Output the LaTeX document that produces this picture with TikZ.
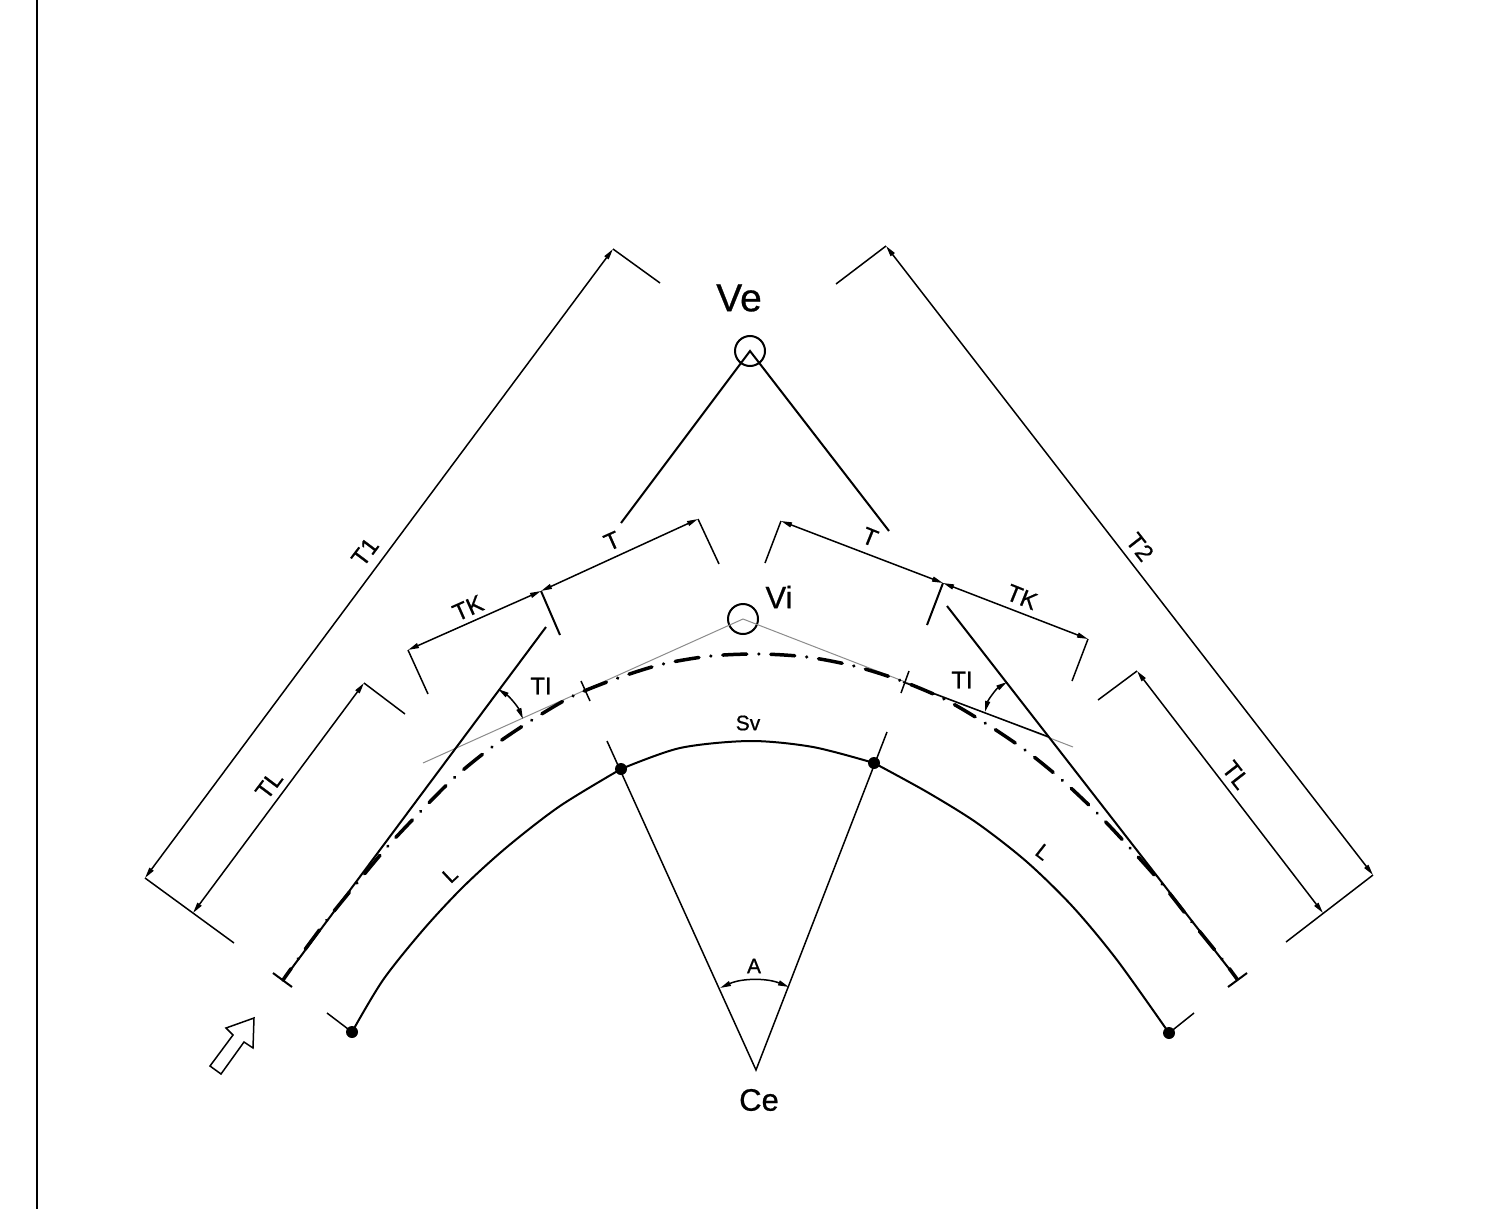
\documentclass[tikz,border=0pt]{standalone}
\usepackage{fontspec}
\setmainfont{Liberation Sans}
\newfontfamily\cadfont[FakeBold=.7]{Liberation Sans}
\usetikzlibrary
  {
    arrows.meta,              % small dimension tips
    calc,
  }

\tikzset
  {
    line/.style={line width=1.5pt},
    thickline/.style={line width=2pt},
    graytan/.style={line width=1pt, black!45},
    dimen/.style={line width=1.5pt, {Stealth[inset=0pt,length=11pt,width=5pt]}-{Stealth[inset=0pt,length=11pt,width=5pt]}},
    axisline/.style={line width=3.5pt, line cap=round, dash pattern=on 24pt off 12pt on .01pt off 12pt, dash phase=10pt},
    bigtext/.style={font=\cadfont\fontsize{39}{39}\selectfont, inner sep=0},
    midtext/.style={font=\cadfont\fontsize{31}{31}\selectfont, inner sep=0},
    dimtext/.style={font=\cadfont\fontsize{24}{24}\selectfont, inner sep=0},
    smalltext/.style={font=\cadfont\fontsize{21}{21}\selectfont, inner sep=0},
    stake/.style={circle, fill=black, inner sep=0, minimum size=12pt},
  }

\begin{document}
\begin{tikzpicture}[x=1pt,y=-1pt]
    \useasboundingbox (0,0) rectangle (1485,1209);
    \fill[white] (0,0) rectangle (1485,1209);

    % frame edge
    \draw[line width=2pt] (37,0) -- (37,1209);

    % vertices
    \node (Ve) [draw, circle, thickline, minimum size=30pt, inner sep=0] at (750,351) {};
    \node (Vi) [draw, circle, thickline, minimum size=30pt, inner sep=0] at (743,619) {};
    \node (VeLabel) [bigtext] at (739,298) {Ve};
    \node (ViLabel) [midtext] at (779,597) {Vi};

    \coordinate (VeC) at (750,351);
    \coordinate (ViC) at (743,619);
    \coordinate (Ce) at (756,1070);
    \node (CeLabel) [midtext] at (759,1100) {Ce};

    % outer tangents
    \coordinate (VeL) at (621,523);
    \coordinate (VeR) at (889,531);
    \draw[thickline] (VeL) -- (VeC) -- (VeR);

    % inner tangents
    \coordinate (TiL) at (423,763);
    \coordinate (TiR) at (1073,747);
    \coordinate (TiRa) at (903,682);
    \coordinate (TiRb) at (1049,737);
    \draw[graytan] (TiL) -- (ViC) -- (TiR);
    \draw[line] (TiRa) -- (TiRb);

    % main tangents
    \coordinate (StartL) at (283,980);
    \coordinate (TopL) at (546,627);
    \coordinate (StartR) at (1237,979);
    \coordinate (TopR) at (947,606);
    \draw[thickline] (StartL) -- (TopL);
    \draw[thickline] (StartR) -- (TopR);
    \draw[thickline] (273,973) -- (292,987);
    \draw[thickline] (1228,987) -- (1247,973);
    \draw[line] (581,681) -- (590,701);
    \draw[line] (909,671) -- (901,693);

    % axis of the curve
    \draw[axisline] plot [smooth] coordinates
      {(StartL) (298,959) (327,920) (357,883) (388,846) (421,811) (455,777) (492,747)
       (532,720) (573,696) (618,678) (663,664) (711,656) (759,654) (807,657) (854,666)
       (899,680) (944,699) (985,723) (1025,750) (1062,780) (1097,813) (1130,848)
       (1162,884) (1192,922) (1222,959) (StartR)};

    % inner curve
    \node (P1) [stake] at (352,1032) {};
    \node (P2) [stake] at (621,769) {};
    \node (P3) [stake] at (874,763) {};
    \node (P4) [stake] at (1169,1033) {};
    \draw[thickline] plot [smooth] coordinates
      {(P1.center) (383,980) (423,930) (463,887) (507,847) (560,806) (P2.center)};
    \draw[thickline] plot [smooth] coordinates
      {(P2.center) (680,748) (750,741) (813,747) (P3.center)};
    \draw[thickline] plot [smooth] coordinates
      {(P3.center) (927,792) (977,823) (1027,862) (1073,907) (1117,960) (P4.center)};
    \draw[line] (P1.center) -- (327,1013);
    \draw[line] (P4.center) -- (1194,1013);

    % radials
    \coordinate (RadL) at (607,741);
    \coordinate (RadR) at (887,732);
    \draw[line] (RadL) -- (Ce) -- (RadR);
    \coordinate (AngL) at (720,988);
    \coordinate (AngR) at (789,987);
    \draw[dimen] (AngL) .. controls (742,978) and (767,978) .. (AngR);
    \node (ALabel) [smalltext] at (754,966) {A};

    % dimension T1 and T2
    \coordinate (T1a) at (145,878);
    \coordinate (T1b) at (613,249);
    \draw[dimen] (T1a) -- (T1b);
    \draw[line] (234,943) -- (T1a);
    \draw[line] (T1b) -- (660,283);
    \node (T1Label) [dimtext, rotate=53] at (365,552) {T1};

    \coordinate (T2a) at (886,246);
    \coordinate (T2b) at (1373,875);
    \draw[dimen] (T2a) -- (T2b);
    \draw[line] (836,284) -- (T2a);
    \draw[line] (T2b) -- (1286,942);
    \node (T2Label) [dimtext, rotate=-52] at (1140,547) {T2};

    % dimension TL
    \coordinate (TLa) at (193,913);
    \coordinate (TLb) at (364,683);
    \draw[dimen] (TLa) -- (TLb);
    \draw[line] (TLb) -- (405,714);
    \node (TLLabel) [dimtext, rotate=53] at (269,785) {TL};

    \coordinate (TRa) at (1323,913);
    \coordinate (TRb) at (1137,671);
    \draw[dimen] (TRa) -- (TRb);
    \draw[line] (TRb) -- (1098,700);
    \node (TRLabel) [dimtext, rotate=-52] at (1236,775) {TL};

    % dimension TK and T
    \coordinate (KLa) at (408,650);
    \coordinate (KLb) at (541,591);
    \coordinate (KLc) at (698,519);
    \draw[dimen] (KLa) -- (KLb);
    \draw[dimen] (KLb) -- (KLc);
    \draw[line] (428,694) -- (KLa);
    \draw[thickline] (KLb) -- (560,635);
    \draw[line] (KLc) -- (719,564);
    \node (TKLabelL) [dimtext, rotate=24] at (468,608) {TK};
    \node (TLabelL) [dimtext, rotate=24] at (612,541) {T};

    \coordinate (KRa) at (1088,639);
    \coordinate (KRb) at (943,583);
    \coordinate (KRc) at (781,521);
    \draw[dimen] (KRa) -- (KRb);
    \draw[dimen] (KRb) -- (KRc);
    \draw[line] (1072,681) -- (KRa);
    \draw[thickline] (KRb) -- (927,625);
    \draw[line] (KRc) -- (765,563);
    \node (TKLabelR) [dimtext, rotate=-22] at (1022,597) {TK};
    \node (TLabelR) [dimtext, rotate=-22] at (870,537) {T};

    % tangent angles
    \coordinate (AnLa) at (498,689);
    \coordinate (AnLb) at (523,719);
    \draw[dimen] (AnLa) .. controls (510,697) and (518,707) .. (AnLb);
    \node (TILabelL) [dimtext] at (541,686) {TI};
    \coordinate (AnRa) at (1007,682);
    \coordinate (AnRb) at (985,712);
    \draw[dimen] (AnRa) .. controls (996,689) and (988,700) .. (AnRb);
    \node (TILabelR) [dimtext] at (962,680) {TI};

    % remaining labels
    \node (SvLabel) [smalltext] at (748,723) {Sv};
    \node (LLabelL) [smalltext, rotate=43] at (450,875) {L};
    \node (LLabelR) [smalltext, rotate=-38] at (1043,852) {L};

    % direction arrow
    \draw[line] (254,1018) -- (226,1028) -- (233,1035) -- (210,1066) -- (221,1074) -- (244,1042) -- (253,1048) -- cycle;
\end{tikzpicture}
\end{document}
